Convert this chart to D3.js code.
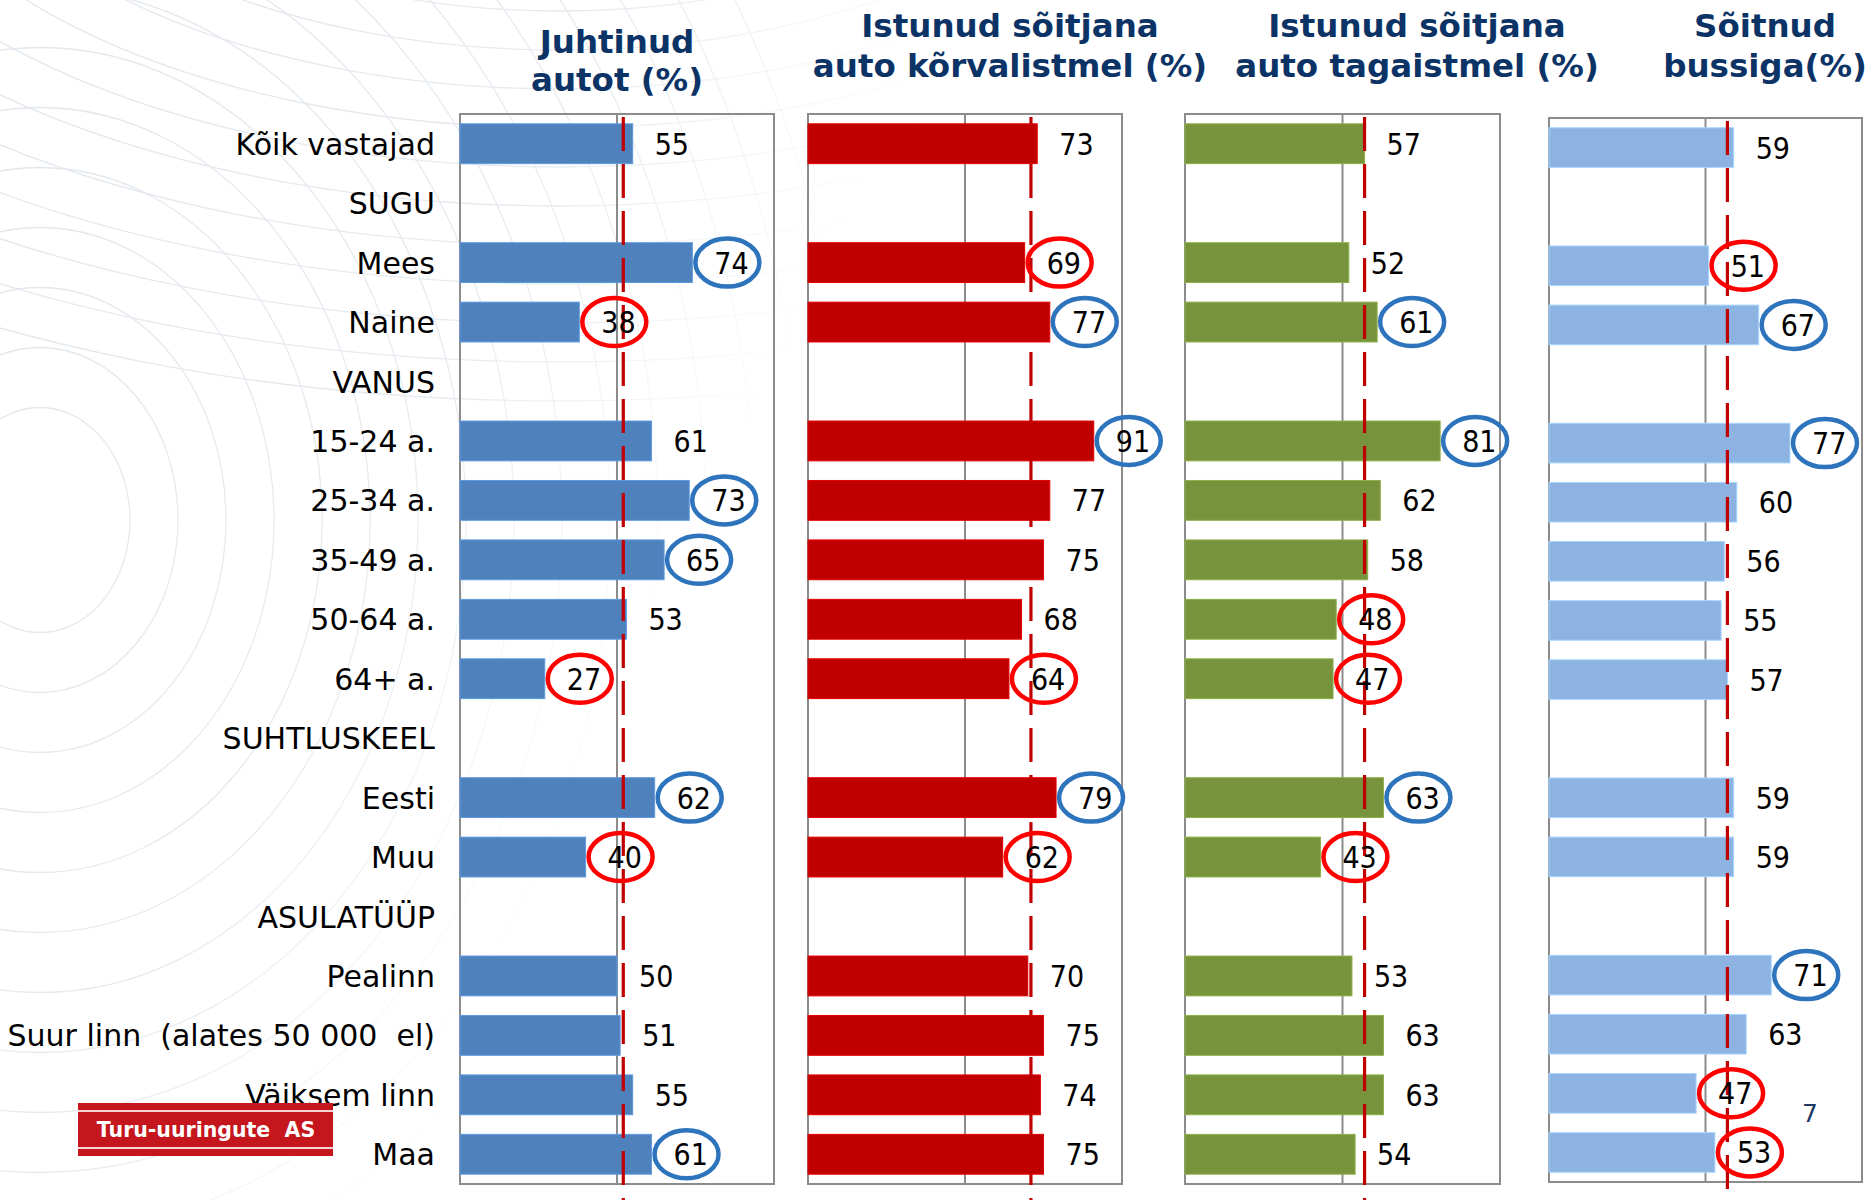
<!DOCTYPE html>
<html>
<head>
<meta charset="utf-8">
<script src="https://cdn.jsdelivr.net/npm/d3@7"></script>
<style>
  body { margin: 0; background: #fff; }
  svg { display: block; }
  text { white-space: pre; }
</style>
</head>
<body>
<svg id="chart" width="1875" height="1200"></svg>
<script>
// rows of the chart (group headers have no value)
const categories = ['Kõik vastajad', 'SUGU', 'Mees', 'Naine', 'VANUS', '15-24 a.', '25-34 a.', '35-49 a.',
  '50-64 a.', '64+ a.', 'SUHTLUSKEEL', 'Eesti', 'Muu', 'ASULATÜÜP', 'Pealinn',
  'Suur linn  (alates 50 000  el)', 'Väiksem linn', 'Maa'];

const drove   = [55, null, 74, 38, null, 61, 73, 65, 53, 27, null, 62, 40, null, 50, 51, 55, 61];
const front   = [73, null, 69, 77, null, 91, 77, 75, 68, 64, null, 79, 62, null, 70, 75, 74, 75];
const back    = [57, null, 52, 61, null, 81, 62, 58, 48, 47, null, 63, 43, null, 53, 63, 63, 54];
const bus     = [59, null, 51, 67, null, 77, 60, 56, 55, 57, null, 59, 59, null, 71, 63, 47, 53];

// h = above average (blue ring), l = below average (red ring)
const marksDrove = [null, null, 'h', 'l', null, null, 'h', 'h', null, 'l', null, 'h', 'l', null, null, null, null, 'h'];
const marksFront = [null, null, 'l', 'h', null, 'h', null, null, null, 'l', null, 'h', 'l', null, null, null, null, null];
const marksBack  = [null, null, null, 'h', null, 'h', null, null, 'l', 'l', null, 'h', 'l', null, null, null, null, null];
const marksBus   = [null, null, 'l', 'h', null, 'h', null, null, null, null, null, null, null, null, 'h', null, 'l', 'l'];

// red dashed reference (average) line per panel
const refValues = [52, 71, 57, 57];

const titles = [
  ['Juhtinud', 'autot (%)'],
  ['Istunud sõitjana', 'auto kõrvalistmel (%)'],
  ['Istunud sõitjana', 'auto tagaistmel (%)'],
  ['Sõitnud', 'bussiga(%)']
];

const barColors = ['#4f81bd', '#c00000', '#77933c', '#8db3e2'];
const series = [drove, front, back, bus];
const marks = [marksDrove, marksFront, marksBack, marksBus];

// layout of the four panels
const layout = [
  { left: 460, width: 314, top: 114, height: 1070, titleX: 617, titleY: [53, 91] },
  { left: 808, width: 314, top: 114, height: 1070, titleX: 1010, titleY: [37, 77] },
  { left: 1185, width: 315, top: 114, height: 1070, titleX: 1417, titleY: [37, 77] },
  { left: 1549, width: 313, top: 118, height: 1064, titleX: 1765, titleY: [37, 77] }
];

const svg = d3.select('#chart');
const defs = svg.append('defs');
const grad = defs.append('linearGradient').attr('id', 'fade')
  .attr('x1', 0).attr('y1', 0).attr('x2', 1).attr('y2', 0.3);
grad.append('stop').attr('offset', '0%').attr('stop-color', '#fff').attr('stop-opacity', 0);
grad.append('stop').attr('offset', '30%').attr('stop-color', '#fff').attr('stop-opacity', 0.15);
grad.append('stop').attr('offset', '48%').attr('stop-color', '#fff').attr('stop-opacity', 1);

// faint decorative curves in the background
const bg = svg.append('g')
  .attr('fill', 'none')
  .attr('stroke', '#d9e0e8')
  .attr('stroke-width', 1.3)
  .attr('opacity', 0.75);
d3.range(16).forEach(function (i) {
  const rx = 90 + i * 48;
  bg.append('ellipse')
    .attr('cx', 40).attr('cy', 520)
    .attr('rx', rx).attr('ry', rx * 1.25);
});
d3.range(14).forEach(function (i) {
  const r = 240 + i * 55;
  bg.append('ellipse')
    .attr('cx', 560).attr('cy', -250 + i * 6)
    .attr('rx', r * 1.2).attr('ry', r * 0.6);
});
svg.append('rect')
  .attr('x', 0).attr('y', 0).attr('width', 1875).attr('height', 1200)
  .attr('fill', 'url(#fade)');

// category labels (left of first panel)
const yLabels = d3.scaleBand()
  .domain(d3.range(categories.length))
  .range([layout[0].top, layout[0].top + layout[0].height])
  .paddingInner(0.33).paddingOuter(0.165);

svg.append('g')
  .selectAll('text')
  .data(categories)
  .join('text')
  .attr('x', 435)
  .attr('y', function (d, i) { return yLabels(i) + yLabels.bandwidth() / 2 + 11; })
  .attr('text-anchor', 'end')
  .style('font-family', '"DejaVu Sans", Verdana, sans-serif')
  .style('font-size', '30px')
  .style('fill', '#000')
  .text(function (d) { return d; });

layout.forEach(function (p, k) {
  const x = d3.scaleLinear().domain([0, 100]).range([p.left, p.left + p.width]);
  const y = d3.scaleBand()
    .domain(d3.range(categories.length))
    .range([p.top, p.top + p.height])
    .paddingInner(0.33).paddingOuter(0.165);

  const g = svg.append('g');

  // panel frame and the 50% gridline
  g.append('rect')
    .attr('x', p.left).attr('y', p.top)
    .attr('width', p.width).attr('height', p.height)
    .attr('fill', 'none')
    .attr('stroke', '#8c8c8c')
    .attr('stroke-width', 2);
  g.append('line')
    .attr('x1', x(50)).attr('x2', x(50))
    .attr('y1', p.top).attr('y2', p.top + p.height)
    .attr('stroke', '#8c8c8c')
    .attr('stroke-width', 2);

  const rows = series[k].map(function (v, i) { return { i: i, v: v, m: marks[k][i] }; })
    .filter(function (d) { return d.v !== null; });

  g.selectAll('rect.bar')
    .data(rows)
    .join('rect')
    .attr('class', 'bar')
    .attr('x', x(0))
    .attr('y', function (d) { return y(d.i); })
    .attr('width', function (d) { return x(d.v) - x(0); })
    .attr('height', y.bandwidth())
    .attr('fill', barColors[k])
    .attr('stroke', d3.color(barColors[k]).brighter(0.5))
    .attr('stroke-width', 1);

  // dashed average line
  g.append('line')
    .attr('x1', x(refValues[k])).attr('x2', x(refValues[k]))
    .attr('y1', p.top + 3).attr('y2', 1200)
    .attr('stroke', '#c00000')
    .attr('stroke-width', 3.2)
    .attr('stroke-dasharray', '34,13');

  // value labels
  g.selectAll('text.val')
    .data(rows)
    .join('text')
    .attr('class', 'val')
    .attr('x', function (d) { return x(d.v) + 22; })
    .attr('y', function (d) { return y(d.i) + y.bandwidth() / 2 + 11; })
    .style('font-family', '"DejaVu Sans Condensed", "DejaVu Sans", sans-serif')
    .style('font-stretch', 'condensed')
    .style('font-size', '30px')
    .style('fill', '#000')
    .text(function (d) { return d.v; });

  // rings around notable values
  g.selectAll('ellipse.ring')
    .data(rows.filter(function (d) { return d.m; }))
    .join('ellipse')
    .attr('class', 'ring')
    .attr('cx', function (d) { return x(d.v) + 22 + 13; })
    .attr('cy', function (d) { return y(d.i) + y.bandwidth() / 2; })
    .attr('rx', 32)
    .attr('ry', 24)
    .attr('fill', 'none')
    .attr('stroke', function (d) { return d.m === 'h' ? '#2e74bd' : '#ff0000'; })
    .attr('stroke-width', 4.5);

  // panel title
  g.append('g')
    .selectAll('text')
    .data(titles[k])
    .join('text')
    .attr('x', p.titleX)
    .attr('y', function (d, j) { return p.titleY[j]; })
    .attr('text-anchor', 'middle')
    .style('font-family', '"DejaVu Sans", Verdana, sans-serif')
    .style('font-weight', 'bold')
    .style('font-size', '32.5px')
    .style('fill', '#0c3366')
    .text(function (d) { return d; });
});

// company logo
const logo = svg.append('g');
logo.append('rect')
  .attr('x', 78).attr('y', 1103).attr('width', 255).attr('height', 53)
  .attr('fill', '#c4161c');
[1111, 1148].forEach(function (yy) {
  logo.append('line')
    .attr('x1', 78).attr('x2', 333).attr('y1', yy).attr('y2', yy)
    .attr('stroke', '#f4d4d4').attr('stroke-width', 2);
});
logo.append('text')
  .attr('x', 206).attr('y', 1137)
  .attr('text-anchor', 'middle')
  .style('font-family', '"DejaVu Sans", Verdana, sans-serif')
  .style('font-weight', 'bold')
  .style('font-size', '20.5px')
  .style('fill', '#fff')
  .text('Turu-uuringute  AS');

// slide number
svg.append('text')
  .attr('x', 1810).attr('y', 1122)
  .attr('text-anchor', 'middle')
  .style('font-family', '"DejaVu Sans", Verdana, sans-serif')
  .style('font-size', '25px')
  .style('fill', '#1f3864')
  .text('7');
</script>
</body>
</html>
